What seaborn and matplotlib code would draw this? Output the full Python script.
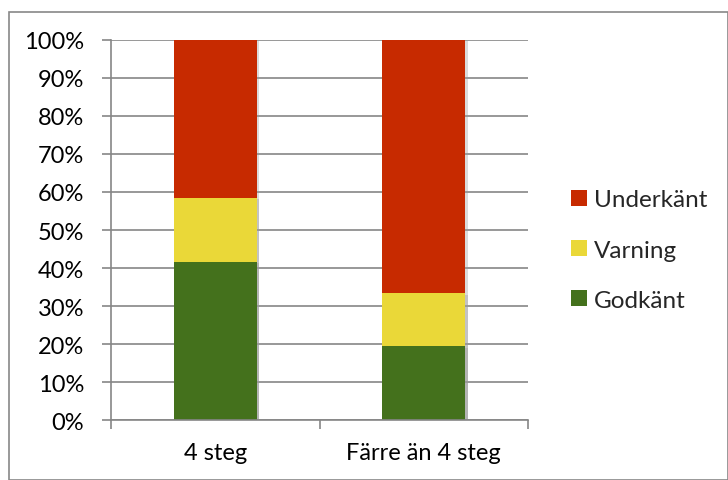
import matplotlib
matplotlib.use("Agg")
import matplotlib.pyplot as plt
import matplotlib.patheffects as pe
from matplotlib.patches import Rectangle, Patch
import numpy as np
import pandas as pd
import seaborn as sns

# Share of results per group (percent)
categories = ["4 steg", "Färre än 4 steg"]
godkant = [41.7, 19.4]
varning = [16.7, 13.9]
underkant = [41.6, 66.7]
series_names = ["Underkänt", "Varning", "Godkänt"]
colors = {"Underkänt": "#C72A00", "Varning": "#EAD838", "Godkänt": "#44711C"}
ytick_values = list(range(0, 101, 10))
ytick_labels = [f"{v}%" for v in ytick_values]

sns.set_theme(style="white")
plt.rcParams["font.family"] = ["Lato", "DejaVu Sans"]

df = pd.DataFrame({"grupp": categories, "Godkänt": godkant,
                   "Varning": varning, "Underkänt": underkant})
# cumulative tops for stacking (drawn from the tallest down)
df["top_godkant"] = df["Godkänt"]
df["top_varning"] = df["Godkänt"] + df["Varning"]
df["top_underkant"] = df["top_varning"] + df["Underkänt"]

fig = plt.figure(figsize=(7.28, 4.81), dpi=100)
ax = fig.add_axes([0.1525, 0.1247, 0.5728, 0.7901])

shadow = [pe.SimplePatchShadow(offset=(1.5, -1.0), shadow_rgbFace="#999999", alpha=0.35), pe.Normal()]
for col, name in [("top_underkant", "Underkänt"), ("top_varning", "Varning"), ("top_godkant", "Godkänt")]:
    sns.barplot(data=df, x="grupp", y=col, color=colors[name], width=0.4,
                saturation=1, ax=ax, linewidth=0, errorbar=None)
for bar in ax.patches:
    bar.set_path_effects(shadow)

ax.set_xlim(-0.5, 1.5)
ax.set_ylim(0, 100)
ax.set_yticks(ytick_values)
ax.set_yticklabels(ytick_labels)
ax.set_xlabel("")
ax.set_ylabel("")

grid_c = "#868686"
ax.yaxis.grid(True, color=grid_c, linewidth=1.2)
ax.set_axisbelow(True)
for s in ["top", "right"]:
    ax.spines[s].set_visible(False)
for s in ["left", "bottom"]:
    ax.spines[s].set_color(grid_c)
    ax.spines[s].set_linewidth(1.2)

ax.tick_params(axis="y", which="major", left=True, length=6.5, width=1.2,
               color=grid_c, pad=13, labelsize=17, labelcolor="black")
ax.tick_params(axis="x", which="major", bottom=False, length=0, pad=16,
               labelsize=17, labelcolor="black")
ax.set_xticks([-0.5, 0.5, 1.5], minor=True)
ax.tick_params(axis="x", which="minor", bottom=True, length=6.5, width=1.2, color=grid_c)

handles = [Patch(facecolor=colors[n], edgecolor="none") for n in series_names]
fig.legend(handles, series_names, loc="center left", bbox_to_anchor=(0.784, 0.478),
           frameon=False, fontsize=17.5, handlelength=0.66, handleheight=0.66,
           handletextpad=0.3, labelspacing=1.2, borderpad=0, borderaxespad=0)

fig.patches.append(Rectangle((8.5 / 728, 0), 1 - 8.5 / 728, 1 - 12.5 / 481,
                             transform=fig.transFigure, fill=False,
                             edgecolor="#888888", linewidth=1.2))

fig.savefig("out.png", dpi=100, facecolor="white")
